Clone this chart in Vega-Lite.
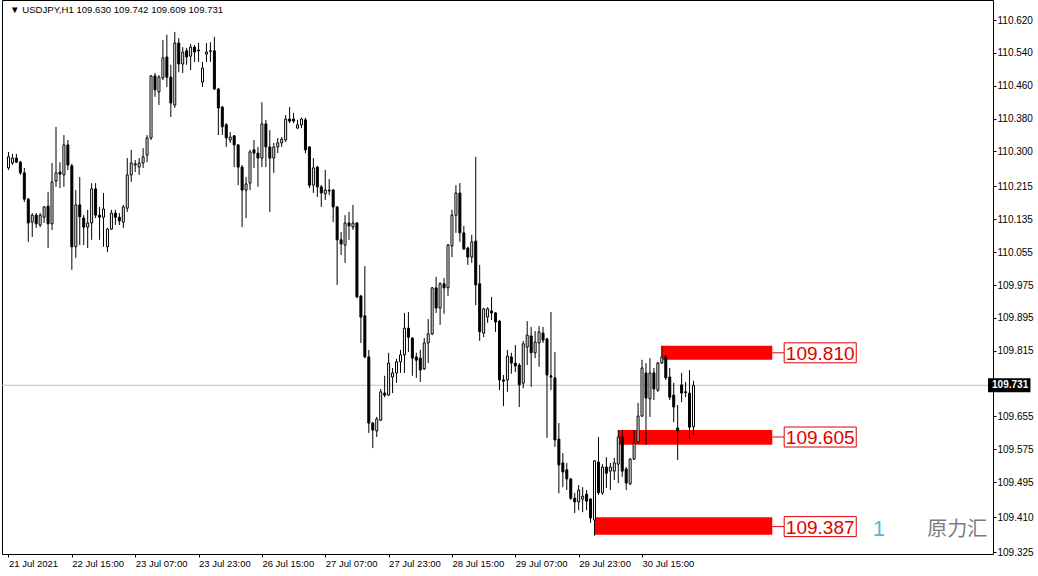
{
"$schema": "https://vega.github.io/schema/vega-lite/v6.json",
"width": 991, "height": 554,
"autosize": {"type": "none"},
"padding": {"left": 2, "top": 0, "right": 45, "bottom": 22},
"background": "white",
"view": {"stroke": "black", "strokeWidth": 1},
"config": {"font": "Liberation Sans",
"axis": {"labelOverlap": false, "labelBound": false, "labelFlush": false, "grid": false, "domain": false, "labelColor": "black", "tickColor": "black", "tickSize": 3, "labelPadding": 1},
"axisY": {"labelOverlap": false, "labelFontSize": 10},
"axisX": {"labelOverlap": false, "labelFontSize": 9.5}},
"datasets": {
"candles": [
{"i":0,"o":110.260,"h":110.299,"l":110.255,"c":110.287},
{"i":1,"o":110.272,"h":110.294,"l":110.267,"c":110.284},
{"i":2,"o":110.284,"h":110.294,"l":110.272,"c":110.274},
{"i":3,"o":110.274,"h":110.277,"l":110.243,"c":110.248},
{"i":4,"o":110.248,"h":110.260,"l":110.177,"c":110.184},
{"i":5,"o":110.184,"h":110.187,"l":110.080,"c":110.126},
{"i":6,"o":110.128,"h":110.150,"l":110.092,"c":110.145},
{"i":7,"o":110.145,"h":110.150,"l":110.114,"c":110.124},
{"i":8,"o":110.121,"h":110.150,"l":110.116,"c":110.145},
{"i":9,"o":110.140,"h":110.167,"l":110.126,"c":110.165},
{"i":10,"o":110.167,"h":110.201,"l":110.065,"c":110.124},
{"i":11,"o":110.124,"h":110.272,"l":110.109,"c":110.226},
{"i":12,"o":110.228,"h":110.360,"l":110.214,"c":110.248},
{"i":13,"o":110.250,"h":110.274,"l":110.211,"c":110.245},
{"i":14,"o":110.243,"h":110.340,"l":110.214,"c":110.316},
{"i":15,"o":110.316,"h":110.328,"l":110.255,"c":110.267},
{"i":16,"o":110.265,"h":110.270,"l":110.012,"c":110.068},
{"i":17,"o":110.068,"h":110.206,"l":110.041,"c":110.170},
{"i":18,"o":110.170,"h":110.238,"l":110.072,"c":110.141},
{"i":19,"o":110.138,"h":110.145,"l":110.072,"c":110.116},
{"i":20,"o":110.116,"h":110.158,"l":110.065,"c":110.126},
{"i":21,"o":110.126,"h":110.223,"l":110.085,"c":110.209},
{"i":22,"o":110.209,"h":110.223,"l":110.138,"c":110.145},
{"i":23,"o":110.145,"h":110.165,"l":110.085,"c":110.140},
{"i":24,"o":110.140,"h":110.199,"l":110.068,"c":110.160},
{"i":25,"o":110.068,"h":110.114,"l":110.055,"c":110.111},
{"i":26,"o":110.111,"h":110.158,"l":110.109,"c":110.150},
{"i":27,"o":110.150,"h":110.158,"l":110.121,"c":110.140},
{"i":28,"o":110.140,"h":110.150,"l":110.121,"c":110.131},
{"i":29,"o":110.128,"h":110.170,"l":110.114,"c":110.165},
{"i":30,"o":110.162,"h":110.284,"l":110.153,"c":110.243},
{"i":31,"o":110.243,"h":110.304,"l":110.226,"c":110.272},
{"i":32,"o":110.267,"h":110.279,"l":110.250,"c":110.270},
{"i":33,"o":110.262,"h":110.284,"l":110.243,"c":110.272},
{"i":34,"o":110.272,"h":110.308,"l":110.260,"c":110.287},
{"i":35,"o":110.291,"h":110.340,"l":110.274,"c":110.333},
{"i":36,"o":110.333,"h":110.486,"l":110.328,"c":110.484},
{"i":37,"o":110.484,"h":110.491,"l":110.433,"c":110.450},
{"i":38,"o":110.445,"h":110.486,"l":110.413,"c":110.481},
{"i":39,"o":110.479,"h":110.571,"l":110.474,"c":110.528},
{"i":40,"o":110.530,"h":110.584,"l":110.457,"c":110.481},
{"i":41,"o":110.481,"h":110.511,"l":110.384,"c":110.418},
{"i":42,"o":110.413,"h":110.591,"l":110.406,"c":110.564},
{"i":43,"o":110.564,"h":110.576,"l":110.493,"c":110.513},
{"i":44,"o":110.513,"h":110.554,"l":110.491,"c":110.542},
{"i":45,"o":110.545,"h":110.552,"l":110.511,"c":110.530},
{"i":46,"o":110.532,"h":110.562,"l":110.498,"c":110.554},
{"i":47,"o":110.554,"h":110.559,"l":110.518,"c":110.542},
{"i":48,"o":110.547,"h":110.564,"l":110.518,"c":110.545},
{"i":49,"o":110.469,"h":110.518,"l":110.457,"c":110.503},
{"i":50,"o":110.537,"h":110.564,"l":110.518,"c":110.542},
{"i":51,"o":110.545,"h":110.566,"l":110.518,"c":110.544},
{"i":52,"o":110.545,"h":110.579,"l":110.450,"c":110.452},
{"i":53,"o":110.452,"h":110.455,"l":110.340,"c":110.406},
{"i":54,"o":110.408,"h":110.411,"l":110.340,"c":110.360},
{"i":55,"o":110.365,"h":110.369,"l":110.311,"c":110.333},
{"i":56,"o":110.328,"h":110.347,"l":110.321,"c":110.335},
{"i":57,"o":110.338,"h":110.340,"l":110.262,"c":110.316},
{"i":58,"o":110.316,"h":110.318,"l":110.218,"c":110.262},
{"i":59,"o":110.262,"h":110.267,"l":110.116,"c":110.206},
{"i":60,"o":110.206,"h":110.238,"l":110.138,"c":110.221},
{"i":61,"o":110.223,"h":110.304,"l":110.206,"c":110.299},
{"i":62,"o":110.304,"h":110.328,"l":110.260,"c":110.296},
{"i":63,"o":110.296,"h":110.311,"l":110.214,"c":110.284},
{"i":64,"o":110.284,"h":110.420,"l":110.262,"c":110.367},
{"i":65,"o":110.367,"h":110.377,"l":110.262,"c":110.311},
{"i":66,"o":110.311,"h":110.352,"l":110.153,"c":110.284},
{"i":67,"o":110.284,"h":110.321,"l":110.248,"c":110.311},
{"i":68,"o":110.311,"h":110.333,"l":110.296,"c":110.321},
{"i":69,"o":110.321,"h":110.335,"l":110.311,"c":110.330},
{"i":70,"o":110.328,"h":110.389,"l":110.323,"c":110.379},
{"i":71,"o":110.379,"h":110.408,"l":110.369,"c":110.374},
{"i":72,"o":110.379,"h":110.394,"l":110.369,"c":110.374},
{"i":73,"o":110.357,"h":110.377,"l":110.355,"c":110.365},
{"i":74,"o":110.365,"h":110.382,"l":110.357,"c":110.379},
{"i":75,"o":110.377,"h":110.382,"l":110.296,"c":110.304},
{"i":76,"o":110.311,"h":110.313,"l":110.211,"c":110.218},
{"i":77,"o":110.218,"h":110.284,"l":110.199,"c":110.260},
{"i":78,"o":110.262,"h":110.265,"l":110.189,"c":110.214},
{"i":79,"o":110.214,"h":110.218,"l":110.165,"c":110.199},
{"i":80,"o":110.197,"h":110.255,"l":110.182,"c":110.206},
{"i":81,"o":110.206,"h":110.233,"l":110.194,"c":110.204},
{"i":82,"o":110.206,"h":110.209,"l":110.128,"c":110.165},
{"i":83,"o":110.165,"h":110.167,"l":109.975,"c":110.085},
{"i":84,"o":110.085,"h":110.104,"l":110.048,"c":110.075},
{"i":85,"o":110.072,"h":110.145,"l":110.029,"c":110.126},
{"i":86,"o":110.126,"h":110.153,"l":110.085,"c":110.119},
{"i":87,"o":110.116,"h":110.170,"l":110.109,"c":110.126},
{"i":88,"o":110.126,"h":110.128,"l":109.943,"c":109.946},
{"i":89,"o":109.948,"h":109.951,"l":109.834,"c":109.897},
{"i":90,"o":109.900,"h":110.021,"l":109.797,"c":109.800},
{"i":91,"o":109.800,"h":109.817,"l":109.615,"c":109.639},
{"i":92,"o":109.639,"h":109.642,"l":109.578,"c":109.622},
{"i":93,"o":109.620,"h":109.654,"l":109.605,"c":109.649},
{"i":94,"o":109.646,"h":109.722,"l":109.644,"c":109.715},
{"i":95,"o":109.712,"h":109.754,"l":109.702,"c":109.707},
{"i":96,"o":109.707,"h":109.810,"l":109.705,"c":109.785},
{"i":97,"o":109.751,"h":109.773,"l":109.712,"c":109.761},
{"i":98,"o":109.761,"h":109.795,"l":109.737,"c":109.788},
{"i":99,"o":109.788,"h":109.817,"l":109.761,"c":109.805},
{"i":100,"o":109.805,"h":109.907,"l":109.761,"c":109.870},
{"i":101,"o":109.870,"h":109.909,"l":109.812,"c":109.848},
{"i":102,"o":109.846,"h":109.848,"l":109.754,"c":109.797},
{"i":103,"o":109.800,"h":109.810,"l":109.749,"c":109.792},
{"i":104,"o":109.797,"h":109.817,"l":109.739,"c":109.768},
{"i":105,"o":109.771,"h":109.846,"l":109.768,"c":109.834},
{"i":106,"o":109.834,"h":109.892,"l":109.785,"c":109.856},
{"i":107,"o":109.856,"h":109.970,"l":109.853,"c":109.968},
{"i":108,"o":109.968,"h":109.995,"l":109.907,"c":109.919},
{"i":109,"o":109.919,"h":109.982,"l":109.878,"c":109.978},
{"i":110,"o":109.978,"h":109.992,"l":109.905,"c":109.968},
{"i":111,"o":109.968,"h":110.075,"l":109.948,"c":110.072},
{"i":112,"o":110.070,"h":110.158,"l":110.043,"c":110.145},
{"i":113,"o":110.145,"h":110.218,"l":110.102,"c":110.199},
{"i":114,"o":110.199,"h":110.223,"l":110.080,"c":110.102},
{"i":115,"o":110.102,"h":110.119,"l":110.060,"c":110.063},
{"i":116,"o":110.065,"h":110.068,"l":110.024,"c":110.043},
{"i":117,"o":110.043,"h":110.097,"l":110.029,"c":110.080},
{"i":118,"o":110.082,"h":110.287,"l":109.926,"c":109.975},
{"i":119,"o":109.978,"h":110.024,"l":109.839,"c":109.861},
{"i":120,"o":109.858,"h":109.919,"l":109.848,"c":109.917},
{"i":121,"o":109.897,"h":109.921,"l":109.883,"c":109.917},
{"i":122,"o":109.912,"h":109.946,"l":109.890,"c":109.907},
{"i":123,"o":109.907,"h":109.909,"l":109.861,"c":109.885},
{"i":124,"o":109.887,"h":109.890,"l":109.719,"c":109.744},
{"i":125,"o":109.744,"h":109.756,"l":109.680,"c":109.741},
{"i":126,"o":109.744,"h":109.817,"l":109.715,"c":109.802},
{"i":127,"o":109.800,"h":109.810,"l":109.759,"c":109.785},
{"i":128,"o":109.785,"h":109.829,"l":109.763,"c":109.778},
{"i":129,"o":109.780,"h":109.785,"l":109.678,"c":109.732},
{"i":130,"o":109.736,"h":109.839,"l":109.724,"c":109.832},
{"i":131,"o":109.824,"h":109.887,"l":109.780,"c":109.853},
{"i":132,"o":109.851,"h":109.873,"l":109.727,"c":109.810},
{"i":133,"o":109.810,"h":109.863,"l":109.797,"c":109.836},
{"i":134,"o":109.834,"h":109.875,"l":109.776,"c":109.861},
{"i":135,"o":109.858,"h":109.873,"l":109.834,"c":109.841},
{"i":136,"o":109.844,"h":109.846,"l":109.603,"c":109.756},
{"i":137,"o":109.754,"h":109.909,"l":109.719,"c":109.751},
{"i":138,"o":109.749,"h":109.812,"l":109.581,"c":109.598},
{"i":139,"o":109.600,"h":109.639,"l":109.468,"c":109.537},
{"i":140,"o":109.542,"h":109.566,"l":109.483,"c":109.520},
{"i":141,"o":109.525,"h":109.542,"l":109.476,"c":109.503},
{"i":142,"o":109.503,"h":109.505,"l":109.452,"c":109.456},
{"i":143,"o":109.456,"h":109.469,"l":109.420,"c":109.447},
{"i":144,"o":109.447,"h":109.488,"l":109.427,"c":109.476},
{"i":145,"o":109.454,"h":109.483,"l":109.422,"c":109.461},
{"i":146,"o":109.466,"h":109.476,"l":109.427,"c":109.449},
{"i":147,"o":109.454,"h":109.456,"l":109.396,"c":109.408},
{"i":148,"o":109.403,"h":109.549,"l":109.365,"c":109.547},
{"i":149,"o":109.544,"h":109.605,"l":109.464,"c":109.469},
{"i":150,"o":109.469,"h":109.539,"l":109.464,"c":109.532},
{"i":151,"o":109.532,"h":109.556,"l":109.481,"c":109.517},
{"i":152,"o":109.522,"h":109.542,"l":109.476,"c":109.532},
{"i":153,"o":109.522,"h":109.554,"l":109.500,"c":109.542},
{"i":154,"o":109.539,"h":109.622,"l":109.493,"c":109.605},
{"i":155,"o":109.605,"h":109.622,"l":109.508,"c":109.522},
{"i":156,"o":109.527,"h":109.532,"l":109.476,"c":109.493},
{"i":157,"o":109.491,"h":109.554,"l":109.488,"c":109.551},
{"i":158,"o":109.551,"h":109.622,"l":109.549,"c":109.590},
{"i":159,"o":109.593,"h":109.688,"l":109.590,"c":109.656},
{"i":160,"o":109.656,"h":109.793,"l":109.654,"c":109.773},
{"i":161,"o":109.761,"h":109.785,"l":109.586,"c":109.700},
{"i":162,"o":109.698,"h":109.797,"l":109.654,"c":109.761},
{"i":163,"o":109.761,"h":109.773,"l":109.695,"c":109.722},
{"i":164,"o":109.719,"h":109.788,"l":109.715,"c":109.785},
{"i":165,"o":109.785,"h":109.827,"l":109.783,"c":109.800},
{"i":166,"o":109.800,"h":109.805,"l":109.744,"c":109.749},
{"i":167,"o":109.751,"h":109.773,"l":109.695,"c":109.702},
{"i":168,"o":109.707,"h":109.737,"l":109.641,"c":109.678},
{"i":169,"o":109.627,"h":109.683,"l":109.549,"c":109.620},
{"i":170,"o":109.732,"h":109.761,"l":109.690,"c":109.712},
{"i":171,"o":109.715,"h":109.739,"l":109.702,"c":109.713},
{"i":172,"o":109.712,"h":109.768,"l":109.600,"c":109.629},
{"i":173,"o":109.630,"h":109.742,"l":109.609,"c":109.731}
],
"zones": [
{"level":"109.810","start":165,"hi":109.827,"lo":109.793,"mid":109.810},
{"level":"109.605","start":154,"hi":109.622,"lo":109.586,"mid":109.605},
{"level":"109.387","start":148,"hi":109.410,"lo":109.367,"mid":109.387}
]
},
"layer": [
{
"data": {"name": "zones"},
"mark": {"type": "rect", "color": "#ff0000"},
"encoding": {
"x": {"field": "start", "type": "quantitative", "title": null, "scale": {"domain": [-0.375, 247.375], "nice": false, "zero": false},
"axis": {"values": [0,16,32,48,64,80,96,112,128,144,160], "labelExpr": "['21 Jul 2021','22 Jul 15:00','23 Jul 07:00','23 Jul 23:00','26 Jul 15:00','27 Jul 07:00','27 Jul 23:00','28 Jul 15:00','29 Jul 07:00','29 Jul 23:00','30 Jul 15:00'][round(datum.value/16)]", "labelAlign": "left", "labelFontSize": 9.5, "labelOverlap": false, "title": null}},
"x2": {"datum": 192.9},
"y": {"field": "hi", "type": "quantitative", "title": null, "scale": {"domain": [109.3203, 110.6687], "nice": false, "zero": false},
"axis": {"orient": "right", "values": [110.62,110.54,110.46,110.38,110.3,110.215,110.135,110.055,109.975,109.895,109.815,109.655,109.575,109.495,109.41,109.325], "format": ".3f", "labelFontSize": 10, "labelOverlap": false, "title": null}},
"y2": {"field": "lo"}
}
},
{
"data": {"values": [{}]},
"mark": {"type": "rule", "color": "#c0c0c0", "strokeWidth": 1},
"encoding": {
"y": {"datum": 109.731, "scale": {"domain": [109.3203, 110.6687], "nice": false, "zero": false},
"axis": {"orient": "right", "values": [110.62,110.54,110.46,110.38,110.3,110.215,110.135,110.055,109.975,109.895,109.815,109.655,109.575,109.495,109.41,109.325], "format": ".3f", "labelFontSize": 10, "labelOverlap": false, "title": null}}
}
},
{
"data": {"name": "candles"},
"mark": {"type": "rule", "color": "black", "strokeWidth": 1},
"encoding": {
"x": {"field": "i", "type": "quantitative", "title": null, "scale": {"domain": [-0.375, 247.375], "nice": false, "zero": false},
"axis": {"values": [0,16,32,48,64,80,96,112,128,144,160], "labelExpr": "['21 Jul 2021','22 Jul 15:00','23 Jul 07:00','23 Jul 23:00','26 Jul 15:00','27 Jul 07:00','27 Jul 23:00','28 Jul 15:00','29 Jul 07:00','29 Jul 23:00','30 Jul 15:00'][round(datum.value/16)]", "labelAlign": "left", "labelFontSize": 9.5, "labelOverlap": false, "title": null}},
"y": {"field": "l", "type": "quantitative", "title": null, "scale": {"domain": [109.3203, 110.6687], "nice": false, "zero": false},
"axis": {"orient": "right", "values": [110.62,110.54,110.46,110.38,110.3,110.215,110.135,110.055,109.975,109.895,109.815,109.655,109.575,109.495,109.41,109.325], "format": ".3f", "labelFontSize": 10, "labelOverlap": false, "title": null}},
"y2": {"field": "h"}
}
},
{
"data": {"name": "candles"},
"mark": {"type": "bar", "orient": "vertical", "size": 2, "stroke": "black", "strokeWidth": 1},
"encoding": {
"x": {"field": "i", "type": "quantitative", "title": null, "scale": {"domain": [-0.375, 247.375], "nice": false, "zero": false},
"axis": {"values": [0,16,32,48,64,80,96,112,128,144,160], "labelExpr": "['21 Jul 2021','22 Jul 15:00','23 Jul 07:00','23 Jul 23:00','26 Jul 15:00','27 Jul 07:00','27 Jul 23:00','28 Jul 15:00','29 Jul 07:00','29 Jul 23:00','30 Jul 15:00'][round(datum.value/16)]", "labelAlign": "left", "labelFontSize": 9.5, "labelOverlap": false, "title": null}},
"y": {"field": "o", "type": "quantitative", "title": null, "scale": {"domain": [109.3203, 110.6687], "nice": false, "zero": false},
"axis": {"orient": "right", "values": [110.62,110.54,110.46,110.38,110.3,110.215,110.135,110.055,109.975,109.895,109.815,109.655,109.575,109.495,109.41,109.325], "format": ".3f", "labelFontSize": 10, "labelOverlap": false, "title": null}},
"y2": {"field": "c"},
"fill": {"condition": {"test": "datum.c > datum.o", "value": "white"}, "value": "black"}
}
},
{
"data": {"name": "zones"},
"mark": {"type": "rule", "color": "#e00000", "strokeWidth": 1},
"encoding": {
"x": {"datum": 192.9, "title": null, "scale": {"domain": [-0.375, 247.375], "nice": false, "zero": false},
"axis": {"values": [0,16,32,48,64,80,96,112,128,144,160], "labelExpr": "['21 Jul 2021','22 Jul 15:00','23 Jul 07:00','23 Jul 23:00','26 Jul 15:00','27 Jul 07:00','27 Jul 23:00','28 Jul 15:00','29 Jul 07:00','29 Jul 23:00','30 Jul 15:00'][round(datum.value/16)]", "labelAlign": "left", "labelFontSize": 9.5, "labelOverlap": false, "title": null}},
"x2": {"datum": 195.9},
"y": {"field": "mid", "type": "quantitative", "title": null, "scale": {"domain": [109.3203, 110.6687], "nice": false, "zero": false},
"axis": {"orient": "right", "values": [110.62,110.54,110.46,110.38,110.3,110.215,110.135,110.055,109.975,109.895,109.815,109.655,109.575,109.495,109.41,109.325], "format": ".3f", "labelFontSize": 10, "labelOverlap": false, "title": null}}
}
},
{
"data": {"name": "zones"},
"mark": {"type": "rect", "fill": "white", "stroke": "#e00000", "strokeWidth": 1, "height": 20},
"encoding": {
"x": {"datum": 195.9, "title": null, "scale": {"domain": [-0.375, 247.375], "nice": false, "zero": false},
"axis": {"values": [0,16,32,48,64,80,96,112,128,144,160], "labelExpr": "['21 Jul 2021','22 Jul 15:00','23 Jul 07:00','23 Jul 23:00','26 Jul 15:00','27 Jul 07:00','27 Jul 23:00','28 Jul 15:00','29 Jul 07:00','29 Jul 23:00','30 Jul 15:00'][round(datum.value/16)]", "labelAlign": "left", "labelFontSize": 9.5, "labelOverlap": false, "title": null}},
"x2": {"datum": 214.1},
"y": {"field": "mid", "type": "quantitative", "title": null, "scale": {"domain": [109.3203, 110.6687], "nice": false, "zero": false},
"axis": {"orient": "right", "values": [110.62,110.54,110.46,110.38,110.3,110.215,110.135,110.055,109.975,109.895,109.815,109.655,109.575,109.495,109.41,109.325], "format": ".3f", "labelFontSize": 10, "labelOverlap": false, "title": null}}
}
},
{
"data": {"name": "zones"},
"mark": {"type": "text", "color": "#e00000", "fontSize": 19, "align": "center", "baseline": "middle", "dy": 1},
"encoding": {
"x": {"datum": 205.0, "title": null, "scale": {"domain": [-0.375, 247.375], "nice": false, "zero": false},
"axis": {"values": [0,16,32,48,64,80,96,112,128,144,160], "labelExpr": "['21 Jul 2021','22 Jul 15:00','23 Jul 07:00','23 Jul 23:00','26 Jul 15:00','27 Jul 07:00','27 Jul 23:00','28 Jul 15:00','29 Jul 07:00','29 Jul 23:00','30 Jul 15:00'][round(datum.value/16)]", "labelAlign": "left", "labelFontSize": 9.5, "labelOverlap": false, "title": null}},
"y": {"field": "mid", "type": "quantitative", "title": null, "scale": {"domain": [109.3203, 110.6687], "nice": false, "zero": false},
"axis": {"orient": "right", "values": [110.62,110.54,110.46,110.38,110.3,110.215,110.135,110.055,109.975,109.895,109.815,109.655,109.575,109.495,109.41,109.325], "format": ".3f", "labelFontSize": 10, "labelOverlap": false, "title": null}},
"text": {"field": "level"}
}
},
{
"data": {"values": [{"price": 109.731, "label": "109.731"}]},
"mark": {"type": "rect", "fill": "black", "height": 14},
"encoding": {
"x": {"datum": 247.375, "title": null, "scale": {"domain": [-0.375, 247.375], "nice": false, "zero": false},
"axis": {"values": [0,16,32,48,64,80,96,112,128,144,160], "labelExpr": "['21 Jul 2021','22 Jul 15:00','23 Jul 07:00','23 Jul 23:00','26 Jul 15:00','27 Jul 07:00','27 Jul 23:00','28 Jul 15:00','29 Jul 07:00','29 Jul 23:00','30 Jul 15:00'][round(datum.value/16)]", "labelAlign": "left", "labelFontSize": 9.5, "labelOverlap": false, "title": null}},
"x2": {"datum": 258.1},
"y": {"field": "price", "type": "quantitative", "title": null, "scale": {"domain": [109.3203, 110.6687], "nice": false, "zero": false},
"axis": {"orient": "right", "values": [110.62,110.54,110.46,110.38,110.3,110.215,110.135,110.055,109.975,109.895,109.815,109.655,109.575,109.495,109.41,109.325], "format": ".3f", "labelFontSize": 10, "labelOverlap": false, "title": null}}
}
},
{
"data": {"values": [{"price": 109.731, "label": "109.731"}]},
"mark": {"type": "text", "color": "white", "fontSize": 10, "fontWeight": "bold", "align": "left", "baseline": "middle"},
"encoding": {
"x": {"datum": 248.4, "title": null, "scale": {"domain": [-0.375, 247.375], "nice": false, "zero": false},
"axis": {"values": [0,16,32,48,64,80,96,112,128,144,160], "labelExpr": "['21 Jul 2021','22 Jul 15:00','23 Jul 07:00','23 Jul 23:00','26 Jul 15:00','27 Jul 07:00','27 Jul 23:00','28 Jul 15:00','29 Jul 07:00','29 Jul 23:00','30 Jul 15:00'][round(datum.value/16)]", "labelAlign": "left", "labelFontSize": 9.5, "labelOverlap": false, "title": null}},
"y": {"field": "price", "type": "quantitative", "title": null, "scale": {"domain": [109.3203, 110.6687], "nice": false, "zero": false},
"axis": {"orient": "right", "values": [110.62,110.54,110.46,110.38,110.3,110.215,110.135,110.055,109.975,109.895,109.815,109.655,109.575,109.495,109.41,109.325], "format": ".3f", "labelFontSize": 10, "labelOverlap": false, "title": null}},
"text": {"field": "label"}
}
},
{
"data": {"values": [{"label": "▼ USDJPY,H1  109.630 109.742 109.609 109.731"}]},
"mark": {"type": "text", "color": "black", "fontSize": 9.6, "align": "left", "baseline": "middle", "font": "Liberation Sans, DejaVu Sans"},
"encoding": {
"x": {"datum": 0.4, "title": null, "scale": {"domain": [-0.375, 247.375], "nice": false, "zero": false},
"axis": {"values": [0,16,32,48,64,80,96,112,128,144,160], "labelExpr": "['21 Jul 2021','22 Jul 15:00','23 Jul 07:00','23 Jul 23:00','26 Jul 15:00','27 Jul 07:00','27 Jul 23:00','28 Jul 15:00','29 Jul 07:00','29 Jul 23:00','30 Jul 15:00'][round(datum.value/16)]", "labelAlign": "left", "labelFontSize": 9.5, "labelOverlap": false, "title": null}},
"y": {"datum": 110.644, "title": null, "scale": {"domain": [109.3203, 110.6687], "nice": false, "zero": false},
"axis": {"orient": "right", "values": [110.62,110.54,110.46,110.38,110.3,110.215,110.135,110.055,109.975,109.895,109.815,109.655,109.575,109.495,109.41,109.325], "format": ".3f", "labelFontSize": 10, "labelOverlap": false, "title": null}},
"text": {"field": "label"}
}
},
{
"data": {"values": [{"label": "1"}]},
"mark": {"type": "text", "color": "#2aa7c9", "fontSize": 22, "align": "center", "baseline": "middle", "opacity": 0.8},
"encoding": {
"x": {"datum": 219.8, "title": null, "scale": {"domain": [-0.375, 247.375], "nice": false, "zero": false},
"axis": {"values": [0,16,32,48,64,80,96,112,128,144,160], "labelExpr": "['21 Jul 2021','22 Jul 15:00','23 Jul 07:00','23 Jul 23:00','26 Jul 15:00','27 Jul 07:00','27 Jul 23:00','28 Jul 15:00','29 Jul 07:00','29 Jul 23:00','30 Jul 15:00'][round(datum.value/16)]", "labelAlign": "left", "labelFontSize": 9.5, "labelOverlap": false, "title": null}},
"y": {"datum": 109.381, "title": null, "scale": {"domain": [109.3203, 110.6687], "nice": false, "zero": false},
"axis": {"orient": "right", "values": [110.62,110.54,110.46,110.38,110.3,110.215,110.135,110.055,109.975,109.895,109.815,109.655,109.575,109.495,109.41,109.325], "format": ".3f", "labelFontSize": 10, "labelOverlap": false, "title": null}},
"text": {"field": "label"}
}
},
{
"data": {"values": [{"label": "原力汇"}]},
"mark": {"type": "text", "color": "#666666", "fontSize": 20, "align": "center", "baseline": "middle", "opacity": 0.85, "font": "Noto Sans CJK SC"},
"encoding": {
"x": {"datum": 239.6, "title": null, "scale": {"domain": [-0.375, 247.375], "nice": false, "zero": false},
"axis": {"values": [0,16,32,48,64,80,96,112,128,144,160], "labelExpr": "['21 Jul 2021','22 Jul 15:00','23 Jul 07:00','23 Jul 23:00','26 Jul 15:00','27 Jul 07:00','27 Jul 23:00','28 Jul 15:00','29 Jul 07:00','29 Jul 23:00','30 Jul 15:00'][round(datum.value/16)]", "labelAlign": "left", "labelFontSize": 9.5, "labelOverlap": false, "title": null}},
"y": {"datum": 109.379, "title": null, "scale": {"domain": [109.3203, 110.6687], "nice": false, "zero": false},
"axis": {"orient": "right", "values": [110.62,110.54,110.46,110.38,110.3,110.215,110.135,110.055,109.975,109.895,109.815,109.655,109.575,109.495,109.41,109.325], "format": ".3f", "labelFontSize": 10, "labelOverlap": false, "title": null}},
"text": {"field": "label"}
}
}
]
}
